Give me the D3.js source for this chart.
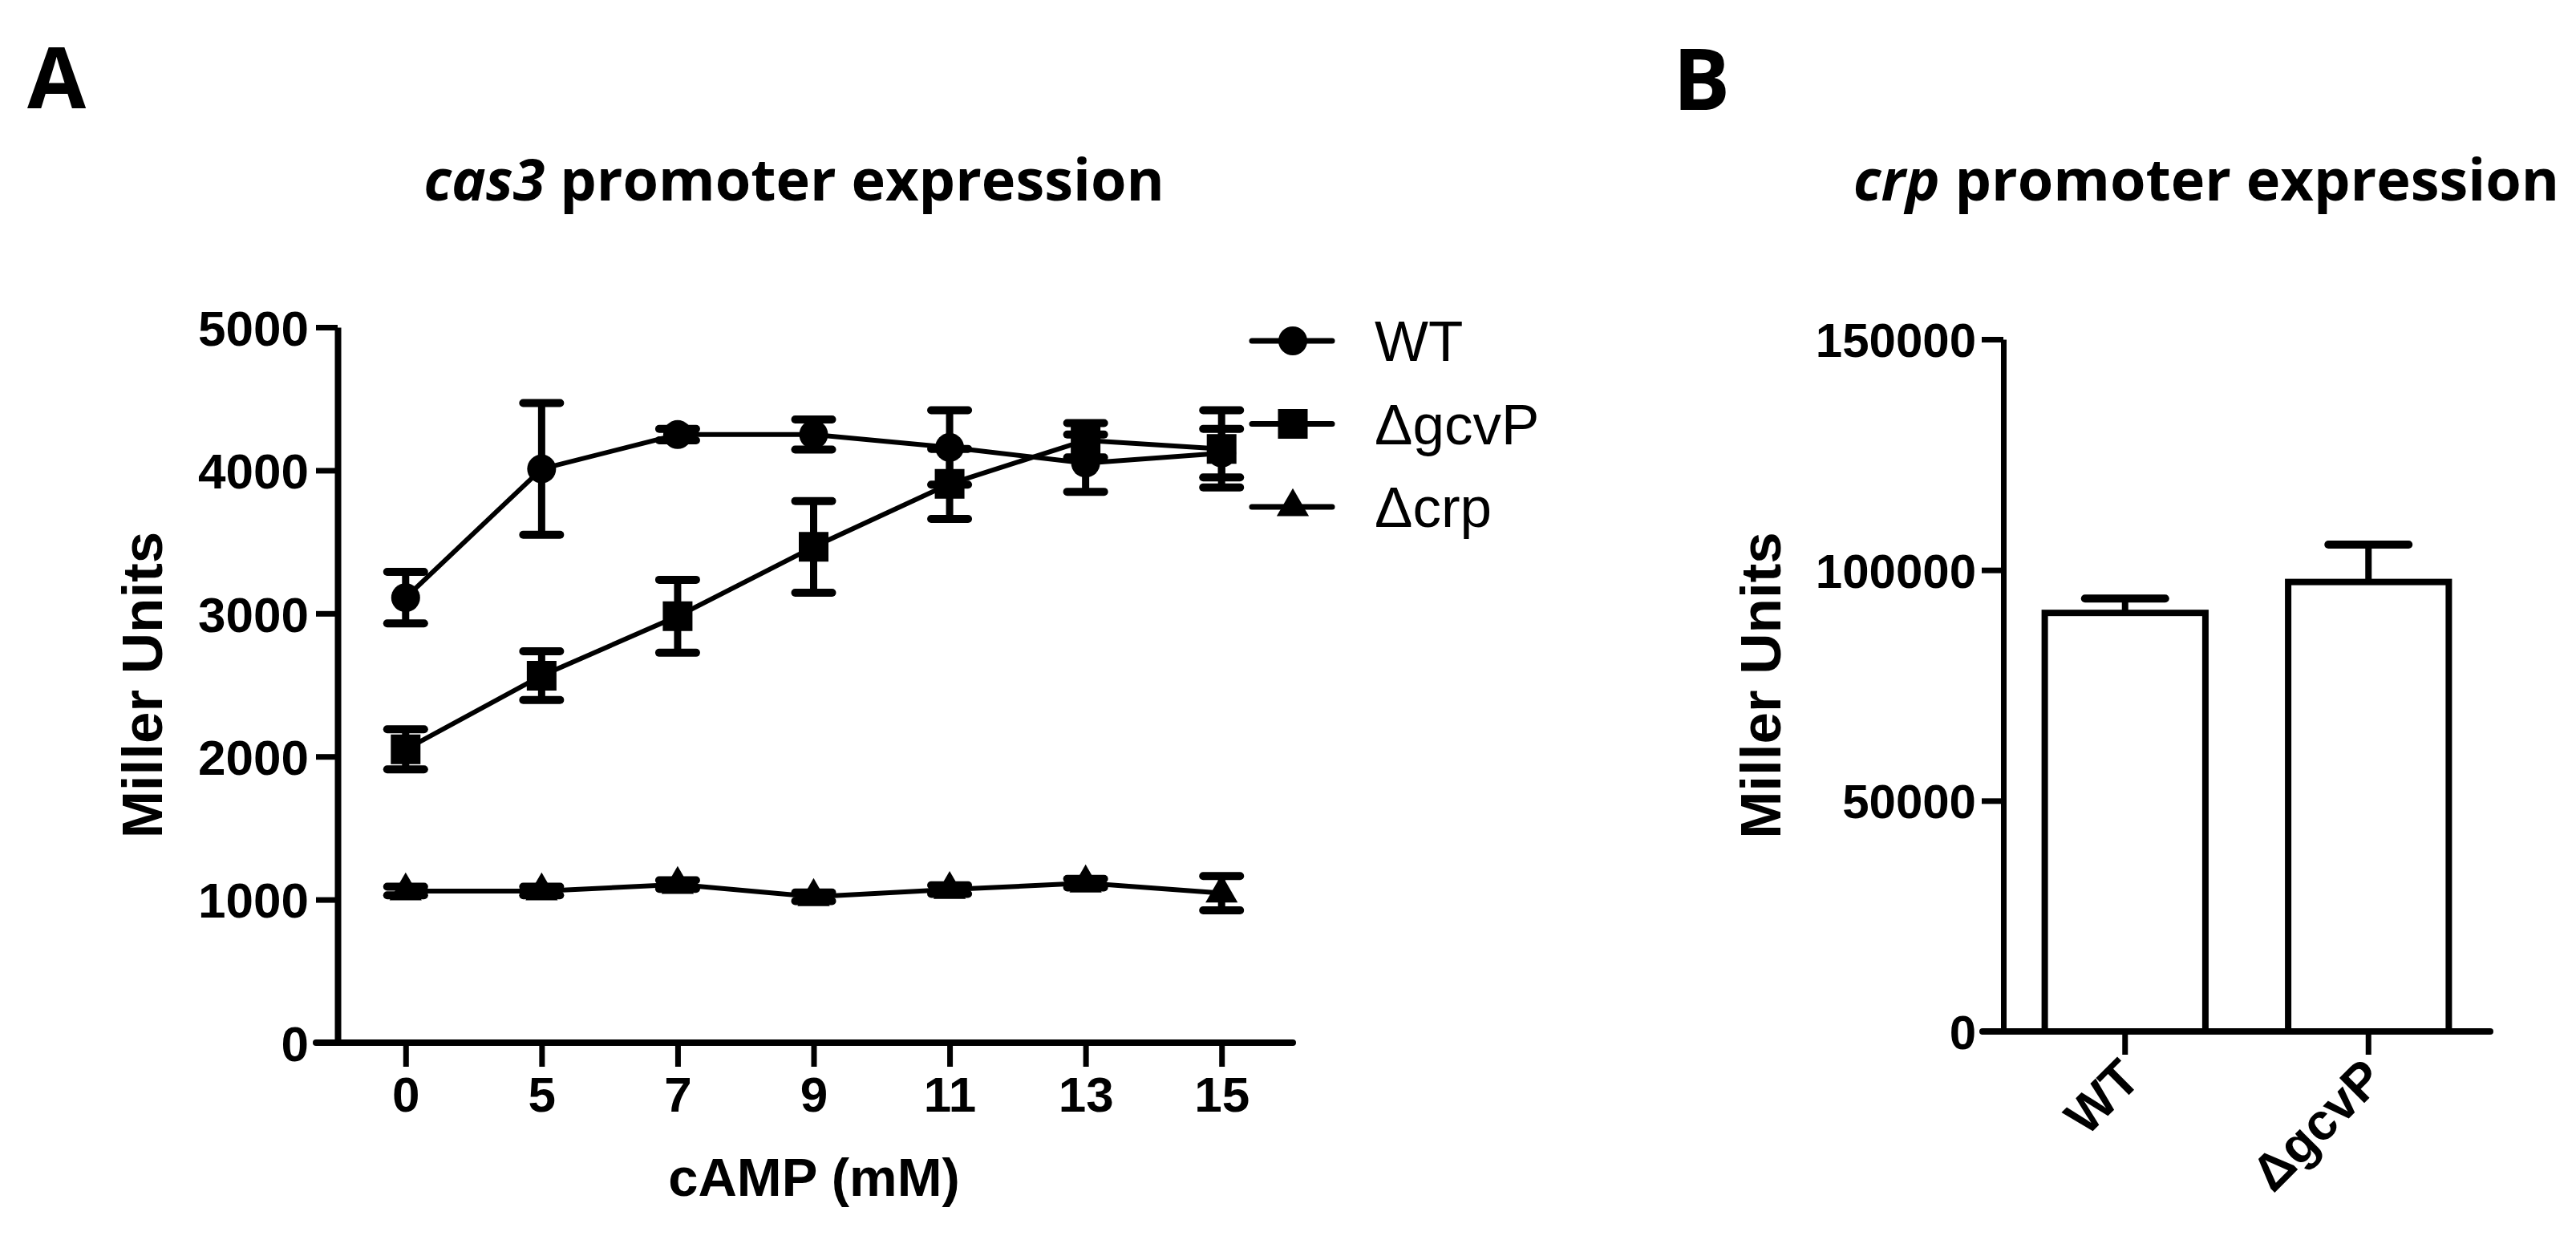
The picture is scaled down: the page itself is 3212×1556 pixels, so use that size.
<!DOCTYPE html>
<html>
<head>
<meta charset="utf-8">
<script src="https://cdn.jsdelivr.net/npm/d3@7"></script>
<style>
  body { margin: 0; background: #fff; }
  svg { display: block; }
  .ax text { font-family: "Liberation Sans", Arial, sans-serif; font-weight: bold; fill: #000; }
</style>
</head>
<body>
<div id="chart"></div>
<script>
// ---- panel A data: cas3 promoter expression vs cAMP ----
var concs = ["0", "5", "7", "9", "11", "13", "15"];
var wtMean = [3110, 4010, 4250, 4250, 4160, 4050, 4120];
var wtErr = [180, 460, 40, 105, 260, 200, 170];
var gcvpMean = [2050, 2565, 2980, 3465, 3905, 4210, 4150];
var gcvpErr = [140, 170, 255, 320, 245, 120, 270];
var crpMean = [1060, 1060, 1105, 1020, 1070, 1115, 1045];
var crpErr = [30, 30, 30, 30, 30, 30, 120];
var seriesNames = ["WT", "\u0394gcvP", "\u0394crp"];
var yTicksA = [0, 1000, 2000, 3000, 4000, 5000];

// ---- panel B data: crp promoter expression ----
var groups = ["WT", "\u0394gcvP"];
var barMean = [90700, 97400];
var barErr = [3100, 8100];
var yTicksB = [0, 50000, 100000, 150000];

var W = 3212, H = 1556;
var svg = d3.select("#chart").append("svg")
    .attr("width", W)
    .attr("height", H);

var font = '"Liberation Sans", Arial, sans-serif';
var titleFont = '"Open Sans", "Noto Sans", sans-serif';
var fmt = d3.format("d");

// panel letters
svg.append("text").attr("x", 34).attr("y", 135)
    .style("font-family", titleFont).style("font-weight", 700).style("font-size", "106px")
    .text("A");
svg.append("text").attr("x", 2086).attr("y", 137)
    .style("font-family", titleFont).style("font-weight", 700).style("font-size", "106px")
    .text("B");

function title(cx, ital, rest)
{
    var t = svg.append("text")
        .attr("x", cx).attr("y", 250)
        .attr("text-anchor", "middle")
        .style("font-family", titleFont)
        .style("font-weight", 700)
        .style("font-size", "72px");
    t.append("tspan").style("font-style", "italic").text(ital);
    t.append("tspan").text(" " + rest);
}
title(990, "cas3", "promoter expression");
title(2751, "crp", "promoter expression");

// ================= panel A =================
var yA = d3.scaleLinear().domain([0, 5000]).range([1300, 408]);
var xA = d3.scalePoint().domain(concs).range([421, 1608]).padding(0.5);

var gy = svg.append("g").attr("class", "ax")
    .attr("transform", "translate(421,0)")
    .call(d3.axisLeft(yA).tickValues(yTicksA).tickFormat(fmt)
        .tickSize(27).tickSizeOuter(0).tickPadding(9));
gy.selectAll("text").style("font-size", "62px").attr("dy", "0.36em");

var gx = svg.append("g").attr("class", "ax")
    .attr("transform", "translate(0," + yA(0) + ")")
    .call(d3.axisBottom(xA).tickSize(30).tickSizeOuter(0).tickPadding(12));
gx.selectAll("text").style("font-size", "62px");
gx.select(".domain").remove();
gx.append("line")
    .attr("x1", xA.range()[0] - 27).attr("x2", xA.range()[1] + 4)
    .attr("stroke", "#000").attr("stroke-width", 8).attr("stroke-linecap", "round");

svg.selectAll(".ax .domain").attr("stroke-width", 8);
svg.selectAll(".ax .tick line").attr("stroke-width", 7);

svg.append("text")
    .attr("transform", "translate(202," + (yA(0) + yA(5000)) / 2 + ") rotate(-90)")
    .attr("text-anchor", "middle")
    .style("font-family", font).style("font-weight", "bold").style("font-size", "71px")
    .text("Miller Units");

svg.append("text")
    .attr("x", 1015).attr("y", 1491)
    .attr("text-anchor", "middle")
    .style("font-family", font).style("font-weight", "bold").style("font-size", "67px")
    .text("cAMP (mM)");

var series = [
    {name: seriesNames[0], mean: wtMean, err: wtErr, sym: d3.symbolCircle, size: 1018},
    {name: seriesNames[1], mean: gcvpMean, err: gcvpErr, sym: d3.symbolSquare, size: 1369},
    {name: seriesNames[2], mean: crpMean, err: crpErr, sym: d3.symbolTriangle, size: 700}
];

var line = d3.line()
    .x(function(d) { return xA(d.c); })
    .y(function(d) { return yA(d.v); });

var capW = 23;
series.forEach(function(s) {
    var pts = concs.map(function(c, i) { return {c: c, v: s.mean[i], e: s.err[i]}; });
    var g = svg.append("g");
    g.append("path").datum(pts)
        .attr("d", line)
        .attr("fill", "none").attr("stroke", "#000").attr("stroke-width", 6);

    var eb = g.selectAll(".eb").data(pts).enter().append("g");
    eb.append("line")
        .attr("x1", function(d) { return xA(d.c); })
        .attr("x2", function(d) { return xA(d.c); })
        .attr("y1", function(d) { return yA(d.v - d.e); })
        .attr("y2", function(d) { return yA(d.v + d.e); })
        .attr("stroke", "#000").attr("stroke-width", 9);
    [-1, 1].forEach(function(sign) {
        eb.append("line")
            .attr("x1", function(d) { return xA(d.c) - capW; })
            .attr("x2", function(d) { return xA(d.c) + capW; })
            .attr("y1", function(d) { return yA(d.v + sign * d.e); })
            .attr("y2", function(d) { return yA(d.v + sign * d.e); })
            .attr("stroke", "#000").attr("stroke-width", 10).attr("stroke-linecap", "round");
    });

    g.selectAll(".mk").data(pts).enter().append("path")
        .attr("transform", function(d) { return "translate(" + xA(d.c) + "," + yA(d.v) + ")"; })
        .attr("d", d3.symbol().type(s.sym).size(s.size))
        .attr("fill", "#000");
});

// legend
var legY = d3.scalePoint().domain(seriesNames).range([425, 632]);
var leg = svg.append("g").selectAll("g").data(series).enter().append("g")
    .attr("transform", function(d) { return "translate(1612," + legY(d.name) + ")"; });
leg.append("line").attr("x1", -51).attr("x2", 49)
    .attr("stroke", "#000").attr("stroke-width", 7).attr("stroke-linecap", "round");
leg.append("path")
    .attr("d", function(d) { return d3.symbol().type(d.sym).size(d.size)(); })
    .attr("fill", "#000");
leg.append("text")
    .attr("x", 102).attr("y", 25)
    .style("font-family", font).style("font-size", "71px")
    .text(function(d) { return d.name; });

// ================= panel B =================
var yB = d3.scaleLinear().domain([0, 150000]).range([1286, 423]);
var xB = d3.scaleBand().domain(groups).range([2498, 3105]).paddingInner(0.34).paddingOuter(0.17);

var gyB = svg.append("g").attr("class", "ax")
    .attr("transform", "translate(2498,0)")
    .call(d3.axisLeft(yB).tickValues(yTicksB).tickFormat(fmt)
        .tickSize(27).tickSizeOuter(0).tickPadding(7));
gyB.selectAll("text").style("font-size", "60px").attr("dy", "0.36em");
gyB.select(".domain").attr("stroke-width", 7);
gyB.selectAll(".tick line").attr("stroke-width", 7);

svg.append("text")
    .attr("transform", "translate(2220," + (yB(0) + yB(150000)) / 2 + ") rotate(-90)")
    .attr("text-anchor", "middle")
    .style("font-family", font).style("font-weight", "bold").style("font-size", "71px")
    .text("Miller Units");

var bars = groups.map(function(g, i) { return {g: g, v: barMean[i], e: barErr[i]}; });

var bg = svg.append("g");
bg.selectAll(".err").data(bars).enter().append("line")
    .attr("x1", function(d) { return xB(d.g) + xB.bandwidth() / 2; })
    .attr("x2", function(d) { return xB(d.g) + xB.bandwidth() / 2; })
    .attr("y1", function(d) { return yB(d.v); })
    .attr("y2", function(d) { return yB(d.v + d.e); })
    .attr("stroke", "#000").attr("stroke-width", 8);
bg.selectAll(".cap").data(bars).enter().append("line")
    .attr("x1", function(d) { return xB(d.g) + xB.bandwidth() / 2 - 50; })
    .attr("x2", function(d) { return xB(d.g) + xB.bandwidth() / 2 + 50; })
    .attr("y1", function(d) { return yB(d.v + d.e); })
    .attr("y2", function(d) { return yB(d.v + d.e); })
    .attr("stroke", "#000").attr("stroke-width", 10).attr("stroke-linecap", "round");
bg.selectAll("rect").data(bars).enter().append("rect")
    .attr("x", function(d) { return xB(d.g); })
    .attr("width", xB.bandwidth())
    .attr("y", function(d) { return yB(d.v); })
    .attr("height", function(d) { return yB(0) - yB(d.v); })
    .attr("fill", "#fff").attr("stroke", "#000").attr("stroke-width", 8);

var gxB = svg.append("g").attr("class", "ax")
    .attr("transform", "translate(0," + yB(0) + ")")
    .call(d3.axisBottom(xB).tickSize(29).tickSizeOuter(0).tickPadding(8));
gxB.select(".domain").remove();
gxB.append("line")
    .attr("x1", xB.range()[0] - 26).attr("x2", xB.range()[1])
    .attr("stroke", "#000").attr("stroke-width", 8).attr("stroke-linecap", "round");
gxB.selectAll(".tick line").attr("stroke-width", 7);
gxB.selectAll("text")
    .style("font-size", "64px")
    .attr("text-anchor", "end")
    .attr("dy", null)
    .attr("y", 0)
    .attr("transform", "translate(22,62) rotate(-45)");
</script>
</body>
</html>
